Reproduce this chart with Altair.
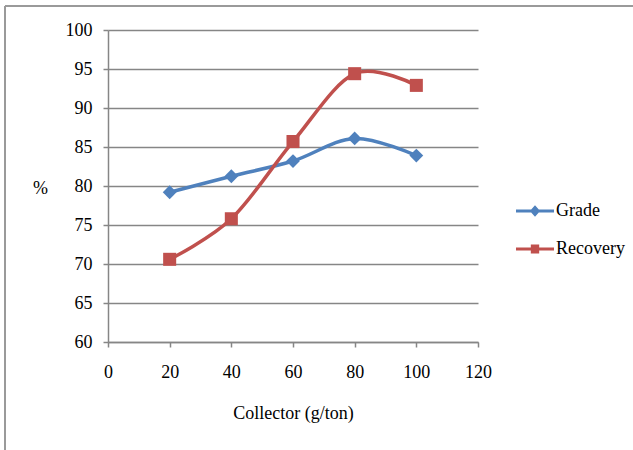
import altair as alt
import pandas as pd

collector = [20, 40, 60, 80, 100]
grade = [79.2, 81.25, 83.2, 86.1, 83.9]
recovery = [70.6, 75.8, 85.7, 94.4, 92.9]
series_names = ["Grade", "Recovery"]
x_ticks = [0, 20, 40, 60, 80, 100, 120]
y_ticks = [60, 65, 70, 75, 80, 85, 90, 95, 100]

BLUE = "#4F81BD"
RED = "#C0504D"
GRID = "#868686"
FONT = "'Liberation Serif', 'Times New Roman', 'DejaVu Serif', serif"
FS = 18

df = pd.DataFrame({
    "collector": collector * 2,
    "value": grade + recovery,
    "series": ["Grade"] * len(collector) + ["Recovery"] * len(collector),
})

x_enc = alt.X("collector:Q",
              scale=alt.Scale(domain=[0, 120], nice=False, zero=False),
              axis=alt.Axis(values=x_ticks, grid=False, domainColor=GRID, domainWidth=1.5,
                            tickColor=GRID, tickWidth=1.5, tickSize=5, labelPadding=16,
                            labelFlush=False,
                            labelFontSize=FS, labelFont=FONT, labelColor="black",
                            title="Collector (g/ton)", titleFont=FONT, titleFontSize=FS,
                            titleFontWeight="normal", titleColor="black",
                            titleY=71, titleBaseline="middle"))
y_enc = alt.Y("value:Q",
              scale=alt.Scale(domain=[60, 100], nice=False, zero=False),
              axis=alt.Axis(values=y_ticks, grid=True, gridColor=GRID, gridWidth=1.5,
                            domainColor=GRID, domainWidth=1.5, tickColor=GRID, tickWidth=1.5,
                            tickSize=5, labelPadding=11, labelFlush=False,
                            labelFontSize=FS, labelFont=FONT,
                            labelColor="black", title="%", titleFont=FONT, titleFontSize=FS,
                            titleFontWeight="normal", titleColor="black", titleAngle=0,
                            titleX=-68, titleY=158, titleAlign="center", titleBaseline="middle"))

base = alt.Chart(df)

layers = []
for name, color, shape, size in [("Grade", BLUE, "diamond", 190), ("Recovery", RED, "square", 170)]:
    sub = base.transform_filter(alt.datum.series == name)
    layers.append(sub.mark_line(color=color, strokeWidth=3.5, interpolate="cardinal")
                  .encode(x=x_enc, y=y_enc))
    layers.append(sub.mark_point(shape=shape, filled=True, size=size, color=color, opacity=1)
                  .encode(x=x_enc, y=y_enc))

path_grade = ("M-1,-0.08L-0.2,-0.08L0,-0.3L0.2,-0.08L1,-0.08L1,0.08L0.2,0.08L0,0.3"
              "L-0.2,0.08L-1,0.08Z")
path_rec = ("M-1,-0.08L-0.22,-0.08L-0.22,-0.24L0.22,-0.24L0.22,-0.08L1,-0.08L1,0.08"
            "L0.22,0.08L0.22,0.24L-0.22,0.24L-0.22,0.08L-1,0.08Z")

leg = alt.Legend(title=None, orient="none", legendX=408, legendY=162, symbolSize=1444,
                 symbolStrokeWidth=0, symbolOpacity=1, labelFont=FONT, labelFontSize=FS,
                 labelColor="black", labelOffset=2, rowPadding=10, padding=0)
legend_layer = base.transform_filter("false").mark_point(filled=True, opacity=1).encode(
    x=x_enc, y=y_enc,
    color=alt.Color("series:N", scale=alt.Scale(domain=series_names, range=[BLUE, RED]), legend=leg),
    shape=alt.Shape("series:N", scale=alt.Scale(domain=series_names, range=[path_grade, path_rec]), legend=leg),
)
layers.append(legend_layer)

border_l = base.mark_rule(color="#9a9a9a", strokeWidth=2).encode(
    x=alt.value(-103), y=alt.value(-24), y2=alt.value(430))
border_t = base.mark_rule(color="#9a9a9a", strokeWidth=2).encode(
    x=alt.value(-103), x2=alt.value(530), y=alt.value(-24))
layers += [border_l, border_t]

chart = alt.layer(*layers).properties(
    width=370, height=312,
    autosize=alt.AutoSizeParams(type="none"),
    padding={"left": 108, "top": 30, "right": 155, "bottom": 108},
    background="white",
).configure(font=FONT).configure_view(stroke=None)

chart.save("out.html", embed_options={"renderer": "svg", "actions": False})
